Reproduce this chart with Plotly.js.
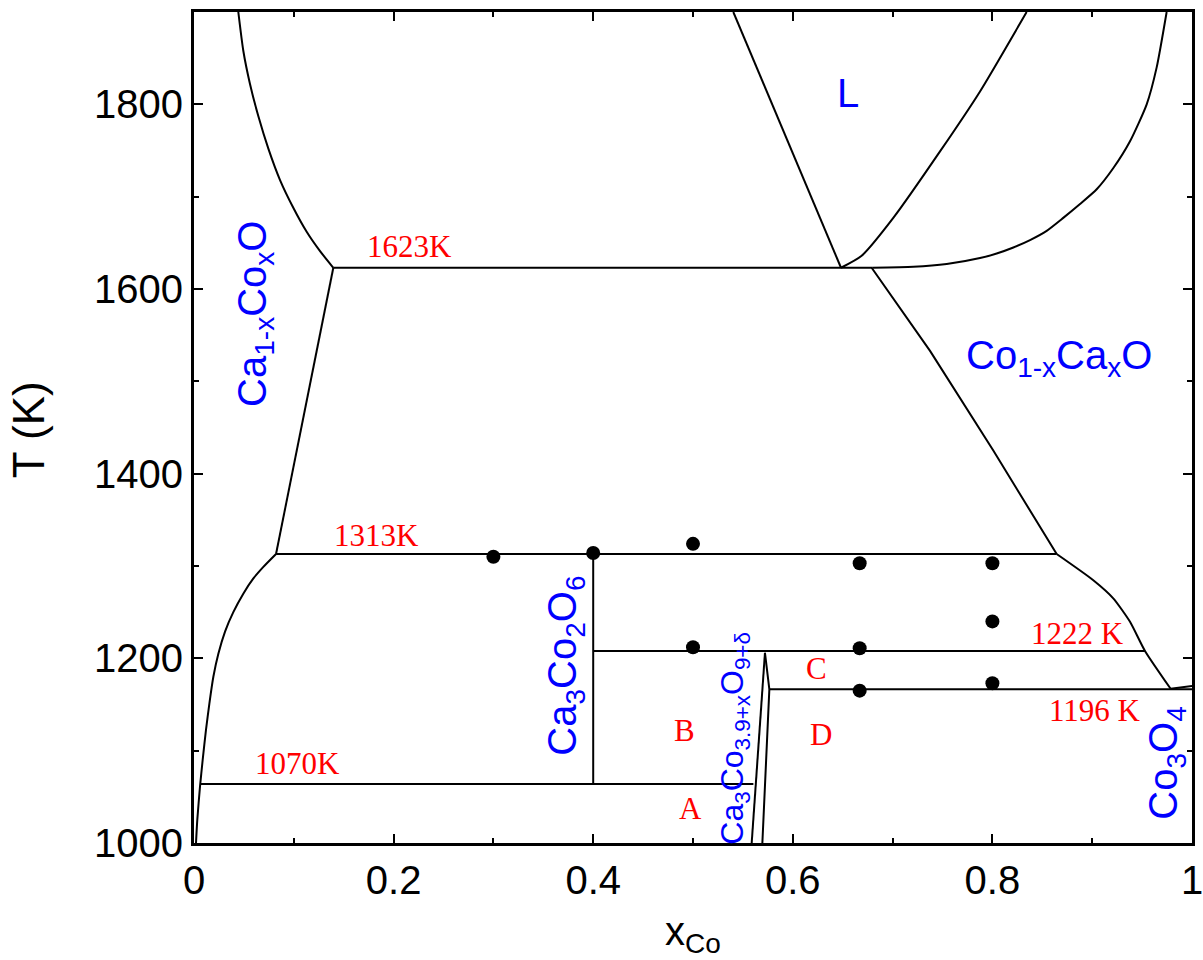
<!DOCTYPE html>
<html>
<head>
<meta charset="utf-8">
<script src="https://cdn.plot.ly/plotly-3.0.1.min.js"></script>
<style>html,body{margin:0;padding:0;background:#fff;}#chart{width:1203px;height:960px;}</style>
</head>
<body>
<div id="chart"></div>
<script>
// ---- Phase boundary data (x_Co, T in K) ----
const liqLeftX   = [0.0444, 0.0494, 0.0561, 0.0645, 0.0745, 0.0862, 0.0995, 0.1129, 0.1263, 0.1396];
const liqLeftT   = [1900, 1858, 1822, 1787, 1752, 1718, 1688, 1662, 1641, 1623];
const solLeftUpX = [0.1396, 0.0822];
const solLeftUpT = [1623, 1313];
const solLeftLoX = [0.0822, 0.0695, 0.0595, 0.0494, 0.0394, 0.0311, 0.0244, 0.0194, 0.0154, 0.012, 0.0087, 0.006, 0.0033, 0.002];
const solLeftLoT = [1313, 1299, 1286.5, 1270, 1250, 1229, 1205, 1180, 1151, 1122.5, 1090, 1061, 1025, 1000];
const h1623X     = [0.1396, 0.68];
const h1623T     = [1623, 1623];
const liqMidLX   = [0.5404, 0.6483];
const liqMidLT   = [1900, 1623];
const liqMidRX   = [0.6483, 0.669, 0.7007, 0.7475, 0.7876, 0.8343];
const liqMidRT   = [1623, 1636, 1677, 1749, 1814, 1900];
const liqRightX  = [0.68, 0.7208, 0.7542, 0.7876, 0.8043, 0.821, 0.8377, 0.8544, 0.871, 0.8878, 0.9045, 0.9212, 0.9379, 0.9546, 0.9646, 0.9746];
const liqRightT  = [1623, 1624, 1627, 1633.5, 1638.5, 1645, 1653, 1663, 1677, 1692, 1708, 1731, 1760, 1800, 1840, 1900];
const solRightUpX = [0.679, 0.7375, 0.8009, 0.8644];
const solRightUpT = [1623, 1533, 1425, 1313];
const h1313X     = [0.0822, 0.8644];
const h1313T     = [1313, 1313];
const solRightLoX = [0.8644, 0.9011, 0.9211, 0.9379, 0.9529, 0.9786];
const solRightLoT = [1313, 1284.6, 1265, 1239.6, 1208, 1167];
const co3o4X     = [0.9786, 1.0];
const co3o4T     = [1167, 1170];
const h1222X     = [0.4, 0.953];
const h1222T     = [1208, 1208];
const h1196X     = [0.577, 1.0];
const h1196T     = [1166.5, 1166.5];
const h1070X     = [0.0065, 0.5605];
const h1070T     = [1064, 1064];
const v326X      = [0.4, 0.4];
const v326T      = [1064, 1313];
const wedgeLX    = [0.5588, 0.5721];
const wedgeLT    = [1000, 1206];
const wedgeRX    = [0.5721, 0.5765, 0.5695];
const wedgeRT    = [1206, 1166.5, 1000];

// ---- Experimental points ----
const ptX = [0.3, 0.4, 0.5, 0.667, 0.8, 0.5, 0.667, 0.8, 0.667, 0.8];
const ptT = [1310, 1314, 1324, 1303, 1303, 1212, 1211, 1240, 1165, 1173];

// ---- Ticks ----
const xTickVals = [0, 0.2, 0.4, 0.6, 0.8, 1];
const xTickText = ['0', '0.2', '0.4', '0.6', '0.8', '1'];
const yTickVals = [1000, 1200, 1400, 1600, 1800];
const yTickText = ['1000', '1200', '1400', '1600', '1800'];

// ---- Labels ----
const redLabels = [
  {t: '1623K', x: 0.2164, y: 1646},
  {t: '1313K', x: 0.1831, y: 1333},
  {t: '1070K', x: 0.1042, y: 1086},
  {t: '1222 K', x: 0.8853, y: 1227},
  {t: '1196 K', x: 0.9028, y: 1144},
  {t: 'A', x: 0.497, y: 1037},
  {t: 'B', x: 0.491, y: 1122},
  {t: 'C', x: 0.624, y: 1189},
  {t: 'D', x: 0.628, y: 1118}
];
const blueLabels = [
  {t: 'L', x: 0.6556, y: 1812.5, a: 0, s: 40},
  {t: 'Co<sub>1-x</sub>Ca<sub>x</sub>O', x: 0.8667, y: 1525, a: 0, s: 40},
  {t: 'Ca<sub>1-x</sub>Co<sub>x</sub>O', x: 0.0611, y: 1573, a: -90, s: 40},
  {t: 'Ca<sub>3</sub>Co<sub>2</sub>O<sub>6</sub>', x: 0.3717, y: 1192, a: -90, s: 40},
  {t: 'Ca<sub>3</sub>Co<sub>3.9+x</sub>O<sub>9+δ</sub>', x: 0.542, y: 1114, a: -90, s: 32},
  {t: 'Co<sub>3</sub>O<sub>4</sub>', x: 0.974, y: 1086, a: -90, s: 40}
];

function line(x, y, smooth) {
  return {x: x, y: y, type: 'scatter', mode: 'lines', hoverinfo: 'skip',
          line: {color: 'black', width: 2, shape: smooth ? 'spline' : 'linear', smoothing: 0.6}};
}
const traces = [
  line(liqLeftX, liqLeftT, true),
  line(solLeftUpX, solLeftUpT, false),
  line(solLeftLoX, solLeftLoT, true),
  line(h1623X, h1623T, false),
  line(liqMidLX, liqMidLT, false),
  line(liqMidRX, liqMidRT, true),
  line(liqRightX, liqRightT, true),
  line(solRightUpX, solRightUpT, false),
  line(h1313X, h1313T, false),
  line(solRightLoX, solRightLoT, true),
  line(co3o4X, co3o4T, false),
  line(h1222X, h1222T, false),
  line(h1196X, h1196T, false),
  line(h1070X, h1070T, false),
  line(v326X, v326T, false),
  line(wedgeLX, wedgeLT, false),
  line(wedgeRX, wedgeRT, false),
  {x: ptX, y: ptT, type: 'scatter', mode: 'markers', marker: {color: 'black', size: 14}}
];

const annotations = [];
redLabels.forEach(l => annotations.push({
  x: l.x, y: l.y, xref: 'x', yref: 'y', text: l.t, showarrow: false,
  xanchor: 'center', yanchor: 'middle',
  font: {family: 'Liberation Serif, Times New Roman, serif', size: 31, color: '#ff0000'}
}));
blueLabels.forEach(l => annotations.push({
  x: l.x, y: l.y, xref: 'x', yref: 'y', text: l.t, showarrow: false, textangle: l.a,
  xanchor: 'center', yanchor: 'middle',
  font: {family: 'Liberation Sans, Arial, sans-serif', size: l.s, color: '#0000ff'}
}));
// axis titles
annotations.push({x: -0.1663, y: 0.4968, xref: 'paper', yref: 'paper', text: 'T (K)', textangle: -90,
  showarrow: false, xanchor: 'center', yanchor: 'middle',
  font: {family: 'Liberation Sans, Arial, sans-serif', size: 44, color: 'black'}});
annotations.push({x: 0.5005, y: -0.110, xref: 'paper', yref: 'paper', text: 'x<sub>Co</sub>',
  showarrow: false, xanchor: 'center', yanchor: 'middle',
  font: {family: 'Liberation Sans, Arial, sans-serif', size: 40, color: 'black'}});

const axisCommon = {
  showline: true, linecolor: 'black', linewidth: 3, mirror: 'allticks',
  ticks: 'inside', ticklen: 9, tickwidth: 2, tickcolor: 'black',
  showgrid: false, zeroline: false, ticklabeloverflow: 'allow',
  tickfont: {family: 'Liberation Sans, Arial, sans-serif', size: 40, color: 'black'}
};
const layout = {
  width: 1203, height: 960,
  margin: {l: 194, r: 11, t: 12, b: 117},
  paper_bgcolor: 'white', plot_bgcolor: 'white',
  showlegend: false,
  xaxis: Object.assign({}, axisCommon, {
    range: [0, 1], tickmode: 'array', tickvals: xTickVals, ticktext: xTickText,
    minor: {dtick: 0.1, tick0: 0, ticks: 'inside', ticklen: 5, tickwidth: 2, tickcolor: 'black', showgrid: false}
  }),
  yaxis: Object.assign({}, axisCommon, {
    range: [1000, 1900], tickmode: 'array', tickvals: yTickVals, ticktext: yTickText,
    minor: {dtick: 100, tick0: 1000, ticks: 'inside', ticklen: 5, tickwidth: 2, tickcolor: 'black', showgrid: false}
  }),
  annotations: annotations
};
Plotly.newPlot('chart', traces, layout, {displayModeBar: false, staticPlot: true});
</script>
</body>
</html>
